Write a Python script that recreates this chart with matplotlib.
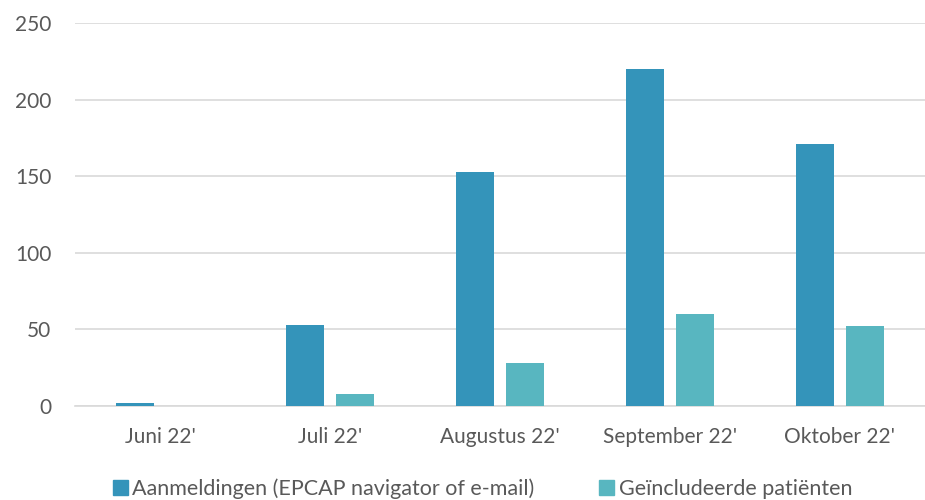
import matplotlib
matplotlib.use("Agg")
import matplotlib.pyplot as plt
import numpy as np
from matplotlib.patches import Patch

categories = ["Juni 22'", "Juli 22'", "Augustus 22'", "September 22'", "Oktober 22'"]
aanmeldingen = [2, 53, 153, 220, 171]
geincludeerd = [0, 8, 28, 60, 52]
series_names = ["Aanmeldingen (EPCAP navigator of e-mail)", "Geïncludeerde patiënten"]
yticks = [0, 50, 100, 150, 200, 250]

c1 = "#3494BA"
c2 = "#58B6C0"
tc = "#595959"

plt.rcParams['font.family'] = ['Lato', 'DejaVu Sans']

fig = plt.figure(figsize=(9.25, 5), dpi=100)
ax = fig.add_axes([75/925, 1 - 406/500, 850/925, 383/500])

x = np.arange(len(categories))
w = 0.222
off = 0.146
ax.bar(x - off, aanmeldingen, width=w, color=c1, zorder=3)
ax.bar(x + off, geincludeerd, width=w, color=c2, zorder=3)

ax.set_xlim(-0.5, len(categories) - 0.5)
ax.set_ylim(0, 250)
ax.set_yticks(yticks)
ax.set_yticklabels([str(v) for v in yticks])
ax.set_xticks(x)
ax.set_xticklabels(categories)
ax.yaxis.grid(True, color="#D9D9D9", linewidth=1.2, zorder=0)
for s in ["top", "right", "left"]:
    ax.spines[s].set_visible(False)
ax.spines["bottom"].set_color("#D9D9D9")
ax.spines["bottom"].set_linewidth(1.2)
ax.tick_params(axis="both", length=0, colors=tc, labelsize=15)
ax.tick_params(axis="y", pad=17)
ax.tick_params(axis="x", pad=15)

handles = [Patch(color=c1), Patch(color=c2)]
fig.legend(handles, series_names, loc="center", bbox_to_anchor=(0.5216, 0.022),
           ncol=2, frameon=False, labelcolor=tc,
           handlelength=0.7, handleheight=0.7, handletextpad=0.2, columnspacing=3.0,
           prop={'size': 15.5})

fig.savefig("out.png", dpi=100)
